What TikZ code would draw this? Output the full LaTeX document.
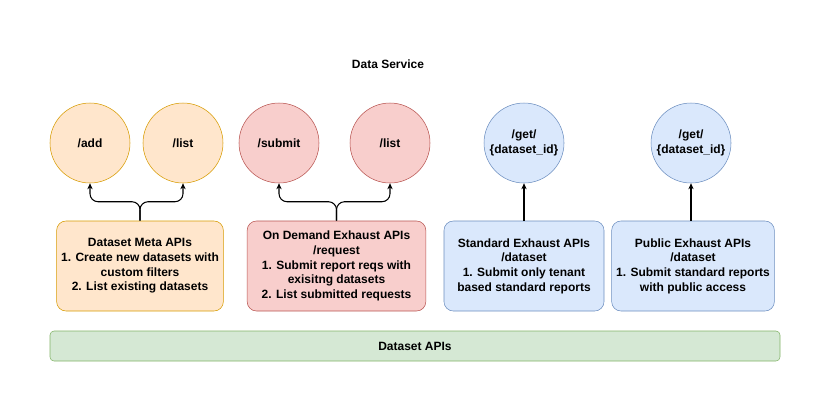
\documentclass[tikz,border=0pt]{standalone}
\usepackage{fontspec}
\setmainfont{Liberation Sans}
\usetikzlibrary{arrows.meta}
\definecolor{metafill}{HTML}{FFE6CC}
\definecolor{metaline}{HTML}{D79B00}
\definecolor{reqfill}{HTML}{F8CECC}
\definecolor{reqline}{HTML}{B85450}
\definecolor{stdfill}{HTML}{DAE8FC}
\definecolor{stdline}{HTML}{6C8EBF}
\definecolor{basefill}{HTML}{D5E8D4}
\definecolor{baseline}{HTML}{82B366}
\begin{document}
\begin{tikzpicture}
        [
        x=0.75pt, y=-0.75pt,
        every node/.style={font=\fontsize{9}{11}\selectfont\bfseries, align=center},
        endpoint/.style={circle, draw, minimum size=60pt, inner sep=0pt},
        apibox/.style={rectangle, rounded corners=7pt, draw, minimum width=124.5pt, minimum height=67.5pt},
        link/.style={-{Stealth[length=4.5pt,width=4pt]}, thick, rounded corners=6pt},
        ]
        \useasboundingbox (0,0) rectangle (831,412);
        \node (title) at (388,64) {Data Service};
        % endpoints
        \node[endpoint, fill=metafill, draw=metaline] (add) at (90,143) {/add};
        \node[endpoint, fill=metafill, draw=metaline] (metalist) at (183,143) {/list};
        \node[endpoint, fill=reqfill, draw=reqline] (submit) at (279,143) {/submit};
        \node[endpoint, fill=reqfill, draw=reqline] (reqlist) at (390,143) {/list};
        \node[endpoint, fill=stdfill, draw=stdline] (stdget) at (524,143) {/get/\\\{dataset\_id\}};
        \node[endpoint, fill=stdfill, draw=stdline] (pubget) at (691,143) {/get/\\\{dataset\_id\}};
        % api groups
        \node[apibox, fill=metafill, draw=metaline] (meta) at (140,266)
            {Dataset Meta APIs\\1. Create new datasets with\\custom filters\\2. List existing datasets};
        \node[apibox, fill=reqfill, draw=reqline, minimum width=134pt] (request) at (336.5,266)
            {On Demand Exhaust APIs\\/request\\1. Submit report reqs with\\exisitng datasets\\2. List submitted requests};
        \node[apibox, fill=stdfill, draw=stdline, minimum width=120pt] (standard) at (524,266)
            {Standard Exhaust APIs\\/dataset\\1. Submit only tenant\\based standard reports};
        \node[apibox, fill=stdfill, draw=stdline, minimum width=120pt] (public) at (693,266)
            {Public Exhaust APIs\\/dataset\\1. Submit standard reports\\with public access};
        \node[rectangle, rounded corners=3pt, draw=baseline, fill=basefill, minimum width=547.5pt, minimum height=22.5pt] (base) at (415,346) {Dataset APIs};
        % connectors
        \draw[link] (meta.north) -- ++(0,-19) -| (add.south);
        \draw[link] (meta.north) -- ++(0,-19) -| (metalist.south);
        \draw[link] (request.north) -- ++(0,-19) -| (submit.south);
        \draw[link] (request.north) -- ++(0,-19) -| (reqlist.south);
        \draw[link] (standard.north) -- (stdget.south);
        \draw[link] (pubget.south |- public.north) -- (pubget.south);
        \end{tikzpicture}
\end{document}
